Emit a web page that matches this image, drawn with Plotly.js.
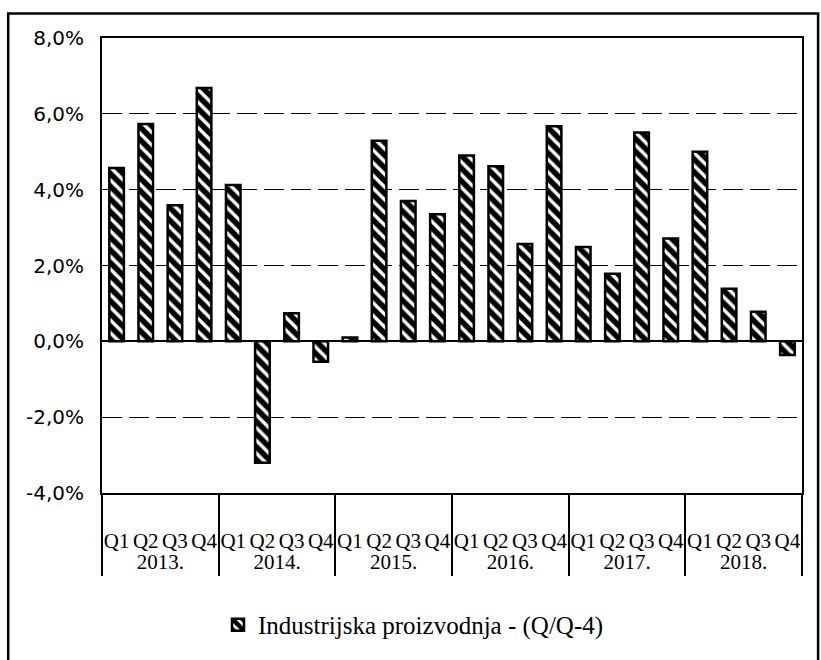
<!DOCTYPE html>
<html>
<head>
<meta charset="utf-8">
<script src="https://cdn.plot.ly/plotly-3.0.1.min.js"></script>
<style>html,body{margin:0;padding:0;background:#fff;}#chart{width:821px;height:660px;}</style>
</head>
<body>
<div id="chart"></div>
<script>
const years = ["2013.","2014.","2015.","2016.","2017.","2018."];
const quarters = ["Q1","Q2","Q3","Q4"];
const seriesName = "Industrijska proizvodnja - (Q/Q-4)";
const values2013 = [4.57, 5.73, 3.59, 6.68];
const values2014 = [4.12, -3.2, 0.74, -0.54];
const values2015 = [0.1, 5.29, 3.7, 3.35];
const values2016 = [4.9, 4.62, 2.57, 5.67];
const values2017 = [2.49, 1.78, 5.51, 2.71];
const values2018 = [5.0, 1.39, 0.78, -0.36];
const yTicks = [-4, -2, 0, 2, 4, 6, 8];

const allValues = [values2013, values2014, values2015, values2016, values2017, values2018];
const xYear = [], xQuarter = [], yVals = [];
years.forEach((yr, i) => {
  quarters.forEach((q, j) => {
    xYear.push(yr);
    // extra line breaks only to space the two label rows like the original
    xQuarter.push("<br>" + q + "<br><span style=\"font-size:6px\">\u00a0</span>");
    yVals.push(allValues[i][j]);
  });
});

const serif = "Liberation Serif";

const trace = {
  type: "bar",
  name: seriesName,
  x: [xYear, xQuarter],
  y: yVals,
  marker: {
    color: "#ffffff",
    line: {color: "#000000", width: 2.5},
    pattern: {shape: "\\", fgcolor: "#000000", bgcolor: "#ffffff", size: 9, solidity: 0.62}
  },
  showlegend: true
};

const layout = {
  width: 821, height: 660,
  margin: {l: 102, r: 19, t: 38, b: 163},
  paper_bgcolor: "#ffffff",
  plot_bgcolor: "#ffffff",
  separators: ",.",
  bargap: 0.5,
  font: {family: serif, color: "#000000"},
  xaxis: {
    type: "multicategory",
    showline: true, linecolor: "#000000", linewidth: 2, mirror: true,
    showgrid: false,
    ticks: "",
    tickangle: 0,
    showdividers: true, dividercolor: "#000000", dividerwidth: 2,
    tickfont: {family: serif, size: 21, color: "#000000"}
  },
  yaxis: {
    range: [-4, 8],
    tickvals: yTicks,
    ticktext: yTicks.map(v => v.toFixed(1).replace(".", ",") + "%"),
    showline: true, linecolor: "#000000", linewidth: 2, mirror: true,
    showgrid: true, gridcolor: "#000000", gridwidth: 1, griddash: "20px,7px",
    zeroline: true, zerolinecolor: "#000000", zerolinewidth: 2,
    ticks: "",
    ticklabelstandoff: 12,
    tickfont: {family: "DejaVu Sans", size: 20, color: "#000000"}
  },
  legend: {
    orientation: "h",
    x: 0.445, xanchor: "center",
    y: -0.29, yanchor: "middle",
    font: {family: serif, size: 25, color: "#000000"},
    itemwidth: 30
  },
  shapes: [{
    type: "rect", xref: "paper", yref: "paper",
    x0: -0.134, x1: 1.023, y0: -0.37, y1: 1.054,
    line: {color: "#000000", width: 2.5}, fillcolor: "rgba(0,0,0,0)"
  }]
};

Plotly.newPlot("chart", [trace], layout, {displayModeBar: false, staticPlot: true});
</script>
</body>
</html>
